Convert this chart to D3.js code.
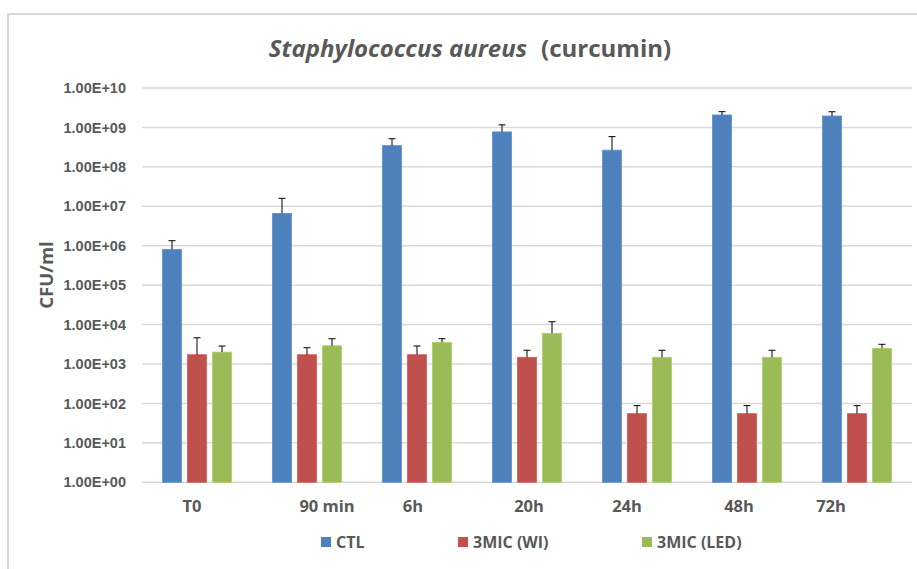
<!DOCTYPE html>
<html>
<head>
<meta charset="utf-8">
<script src="https://cdn.jsdelivr.net/npm/d3@7/dist/d3.min.js"></script>
<style>
  html, body { margin: 0; padding: 0; background: #fff; }
  svg { display: block; font-family: "Open Sans", "DejaVu Sans", sans-serif; }
</style>
</head>
<body>
<svg id="chart" width="917" height="569"></svg>
<script>
// Time points
const categories = ["T0", "90 min", "6h", "20h", "24h", "48h", "72h"];
// Series names
const seriesNames = ["CTL", "3MIC (WI)", "3MIC (LED)"];
// Mean counts (CFU/ml)
const ctlValues = [8.1e5, 6.6e6, 3.45e8, 7.7e8, 2.65e8, 2.07e9, 1.95e9];
const wiValues  = [1.72e3, 1.72e3, 1.72e3, 1.48e3, 55, 55, 55];
const ledValues = [2.0e3, 2.9e3, 3.55e3, 6.0e3, 1.48e3, 1.48e3, 2.5e3];
// Standard deviations (upper error bars)
const ctlErrors = [5.3e5, 9.3e6, 1.72e8, 3.9e8, 3.2e8, 4.4e8, 5.5e8];
const wiErrors  = [2.9e3, 0.87e3, 1.14e3, 0.75e3, 33, 33, 33];
const ledErrors = [0.85e3, 1.47e3, 0.83e3, 5.8e3, 0.75e3, 0.75e3, 0.66e3];
// Y axis tick values and labels
const yTickValues = [1e0, 1e1, 1e2, 1e3, 1e4, 1e5, 1e6, 1e7, 1e8, 1e9, 1e10];
const yTickLabels = ["1.00E+00", "1.00E+01", "1.00E+02", "1.00E+03", "1.00E+04",
  "1.00E+05", "1.00E+06", "1.00E+07", "1.00E+08", "1.00E+09", "1.00E+10"];

// ---- layout ----
const colors = ["#4f81bd", "#c0504d", "#9bbb59"];
const textColor = "#595959";
const gridColor = "#d9d9d9";
const plot = { left: 142, right: 912, top: 88, bottom: 482.3 };
// horizontal nudges of the category labels (px)
const labelNudge = [-5, 20, -4, 2, -10, -8, -26];

const svg = d3.select("#chart");

// outer frame
svg.append("path")
  .attr("d", "M8,569 L8,14 L917,14")
  .attr("fill", "none")
  .attr("stroke", gridColor)
  .attr("stroke-width", 2);

const x = d3.scaleBand().domain(categories).range([plot.left, plot.right]).padding(0);
const bw = x.bandwidth();
const inner = d3.scaleBand().domain(seriesNames)
  .range([bw / 2 - 34.5, bw / 2 + 34.5])
  .paddingInner(0.24).paddingOuter(0);
const y = d3.scaleLog().domain([1, 1e10]).range([plot.bottom, plot.top]);

// gridlines
svg.append("g").selectAll("line").data(yTickValues).join("line")
  .attr("x1", plot.left).attr("x2", plot.right)
  .attr("y1", d => y(d)).attr("y2", d => y(d))
  .attr("stroke", gridColor).attr("stroke-width", 1.5);

// y axis labels
const yAxis = d3.axisLeft(y).tickValues(yTickValues)
  .tickFormat((d, i) => yTickLabels[i]).tickSize(0).tickPadding(0);
const yg = svg.append("g").attr("transform", `translate(126,0)`).call(yAxis);
yg.select(".domain").remove();
yg.selectAll("text")
  .attr("fill", textColor)
  .style("font-size", "14.5px")
  .style("font-weight", "700");

// axis title
svg.append("text")
  .attr("transform", `translate(53,275) rotate(-90)`)
  .attr("text-anchor", "middle")
  .attr("fill", textColor)
  .style("font-size", "18.5px")
  .style("font-weight", "700")
  .text("CFU/ml");

// bars
const rows = categories.map((c, i) => ({
  cat: c,
  items: [
    { s: seriesNames[0], v: ctlValues[i], e: ctlErrors[i], k: 0 },
    { s: seriesNames[1], v: wiValues[i], e: wiErrors[i], k: 1 },
    { s: seriesNames[2], v: ledValues[i], e: ledErrors[i], k: 2 }
  ]
}));

const groups = svg.append("g").selectAll("g").data(rows).join("g")
  .attr("transform", d => `translate(${x(d.cat)},0)`);

groups.selectAll("rect").data(d => d.items).join("rect")
  .attr("x", d => inner(d.s))
  .attr("width", inner.bandwidth())
  .attr("y", d => y(d.v))
  .attr("height", d => y(1) - y(d.v))
  .attr("fill", d => colors[d.k])
  .attr("stroke", d => d3.color(colors[d.k]).brighter(0.3))
  .attr("stroke-width", 0.8);

// upper error bars
const eb = groups.selectAll("g.err").data(d => d.items).join("g").attr("class", "err");
eb.append("line")
  .attr("x1", d => inner(d.s) + inner.bandwidth() / 2)
  .attr("x2", d => inner(d.s) + inner.bandwidth() / 2)
  .attr("y1", d => y(d.v))
  .attr("y2", d => y(d.v + d.e))
  .attr("stroke", "#000").attr("stroke-width", 1);
eb.append("line")
  .attr("x1", d => inner(d.s) + inner.bandwidth() / 2 - 3.5)
  .attr("x2", d => inner(d.s) + inner.bandwidth() / 2 + 3.5)
  .attr("y1", d => y(d.v + d.e))
  .attr("y2", d => y(d.v + d.e))
  .attr("stroke", "#000").attr("stroke-width", 1);

// category labels
svg.append("g").selectAll("text").data(categories).join("text")
  .attr("x", (d, i) => x(d) + bw / 2 + labelNudge[i])
  .attr("y", 512)
  .attr("text-anchor", "middle")
  .attr("fill", textColor)
  .style("font-size", "16.5px")
  .style("font-weight", "700")
  .text(d => d);

// title
const title = svg.append("text")
  .attr("x", 470).attr("y", 57)
  .attr("text-anchor", "middle")
  .attr("fill", textColor)
  .style("font-size", "24px");
title.append("tspan").style("font-style", "italic").style("font-weight", "700")
  .text("Staphylococcus aureus");
title.append("tspan").attr("dx", 14).style("font-weight", "700").text("(curcumin)");

// legend
const legendX = [321, 458, 642];
const lg = svg.append("g").selectAll("g").data(seriesNames).join("g")
  .attr("transform", (d, i) => `translate(${legendX[i]},537)`);
lg.append("rect").attr("width", 10).attr("height", 10).attr("fill", (d, i) => colors[i]);
lg.append("text").attr("x", 15).attr("y", 11)
  .attr("fill", textColor)
  .style("font-size", "16px").style("font-weight", "700")
  .text(d => d);
</script>
</body>
</html>
